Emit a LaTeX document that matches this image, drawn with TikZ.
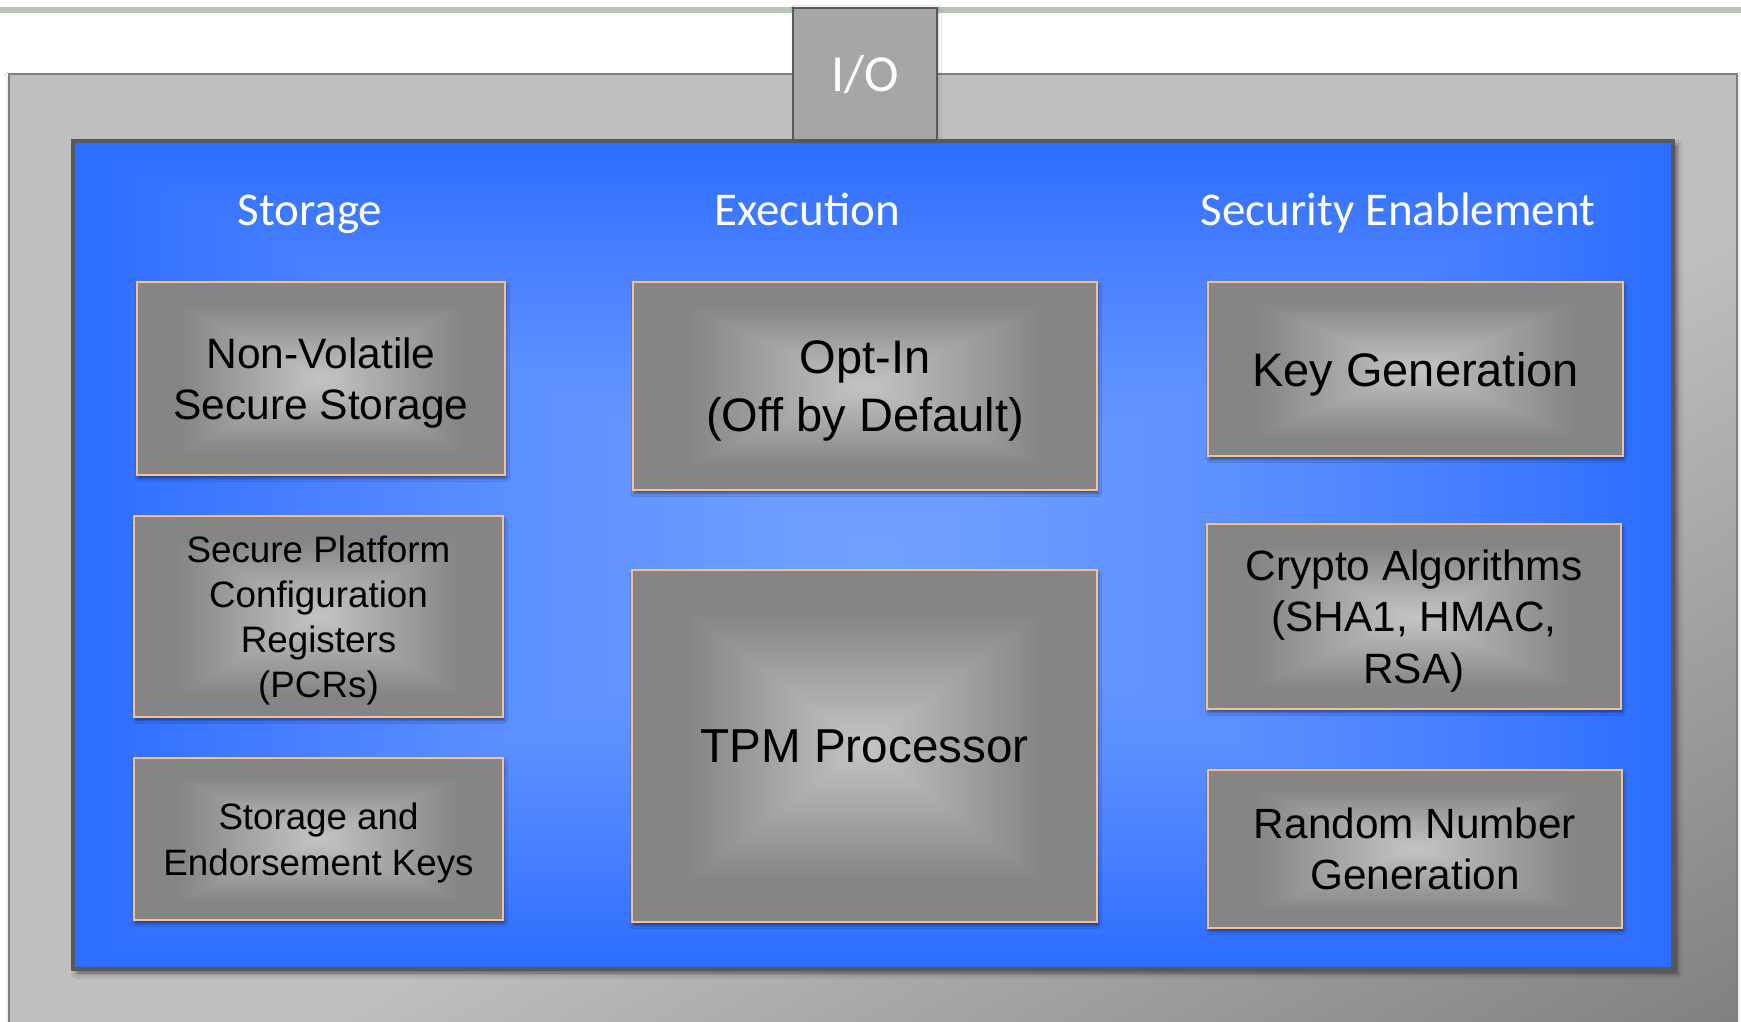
\documentclass[tikz,border=0pt]{standalone}
\usepackage{fontspec}
\setmainfont{Liberation Sans}
\newfontfamily\headfont{Carlito}
\usetikzlibrary{shadows.blur}

\definecolor{sage}{HTML}{B4C9B2}
\definecolor{frameline}{HTML}{7F7F7F}
\definecolor{iofill}{HTML}{A6A6A6}
\definecolor{darkedge}{HTML}{595959}
\definecolor{peach}{HTML}{FAC090}
\definecolor{bxd}{HTML}{858585}
\definecolor{bxl}{HTML}{C4C4C4}
\definecolor{bl0}{HTML}{2B6DFF}
\definecolor{bl1}{HTML}{4A80FF}
\definecolor{bl2}{HTML}{5C8FFF}
\definecolor{bl3}{HTML}{72A1FF}

% corner-to-corner ramp for the outer housing: light over the upper-left
% half, darkening towards the lower-right corner
\pgfdeclarefunctionalshading{outerdiag}{\pgfpointorigin}{\pgfpoint{100bp}{100bp}}{}{
  sub 50 add 100 div
  0.58 sub dup 0 lt {pop 0} if
  0.42 div 0.251 mul 0.749 exch sub
  dup dup
}

% rectangular "from centre" gradient, built from a symmetric vertical ramp
% plus left/right triangles with horizontal ramps
\pgfdeclareverticalshading{grayV}{100bp}{color(0bp)=(bxd); color(31bp)=(bxd); color(50bp)=(bxl); color(69bp)=(bxd); color(100bp)=(bxd)}
\pgfdeclarehorizontalshading{grayL}{100bp}{color(0bp)=(bxd); color(37bp)=(bxd); color(75bp)=(bxl); color(100bp)=(bxl)}
\pgfdeclarehorizontalshading{grayR}{100bp}{color(0bp)=(bxl); color(25bp)=(bxl); color(63bp)=(bxd); color(100bp)=(bxd)}

\pgfdeclareverticalshading{blueV}{100bp}{color(0bp)=(bl0); color(25bp)=(bl0); color(32.5bp)=(bl1); color(38.75bp)=(bl2); color(50bp)=(bl3); color(61.25bp)=(bl2); color(67.5bp)=(bl1); color(75bp)=(bl0); color(100bp)=(bl0)}
\pgfdeclarehorizontalshading{blueL}{100bp}{color(0bp)=(bl0); color(25bp)=(bl0); color(40bp)=(bl1); color(52.5bp)=(bl2); color(75bp)=(bl3); color(100bp)=(bl3)}
\pgfdeclarehorizontalshading{blueR}{100bp}{color(0bp)=(bl3); color(25bp)=(bl3); color(47.5bp)=(bl2); color(60bp)=(bl1); color(75bp)=(bl0); color(100bp)=(bl0)}

\tikzset{
  rectgrad/.style n args={3}{path picture={
    \shade[shading=#1] (path picture bounding box.south west) rectangle (path picture bounding box.north east);
    \shade[shading=#2] (path picture bounding box.south west) -- (path picture bounding box.center) -- (path picture bounding box.north west) -- cycle;
    \shade[shading=#3] (path picture bounding box.south east) -- (path picture bounding box.center) -- (path picture bounding box.north east) -- cycle;
  }},
  gbox/.style={draw=peach, line width=2.5pt, rectgrad={grayV}{grayL}{grayR},
    blur shadow={shadow xshift=1.5pt, shadow yshift=-3.5pt, shadow blur radius=3pt, shadow opacity=45},
    align=center, inner sep=0pt, text depth=-4pt, text=black},
  head/.style={font=\headfont\fontsize{47}{56}\selectfont, text=white, anchor=base, inner sep=0pt},
  iobox/.style={draw=darkedge, line width=2.5pt, fill=iofill,
    blur shadow={shadow xshift=1pt, shadow yshift=-1pt, shadow blur radius=3pt, shadow opacity=25}},
}

\begin{document}
\begin{tikzpicture}[x=1pt, y=-1pt]
  \useasboundingbox (0,0) rectangle (1741,1022);
  \fill[white] (0,0) rectangle (1741,1022);

  % rule across the top
  \draw[sage, line width=5.3pt] (0,10) -- (1741,10);

  % outer housing
  \shadedraw[draw=frameline, line width=2pt, shading=outerdiag,
    blur shadow={shadow xshift=0pt, shadow yshift=-2pt, shadow blur radius=4pt, shadow opacity=25}]
    (9,74) rectangle (1737,1040);

  % I/O tab
  \node[iobox, minimum width=144pt, minimum height=134.3pt, anchor=north] (io) at (865,6.7) {};
  \node[text=white, font=\headfont\fontsize{52}{60}\selectfont, inner sep=0pt, text depth=0pt]
    (iolabel) at ([yshift=2pt]io.center) {I/O};

  % blue core
  \path[draw=darkedge, line width=3.5pt, rectgrad={blueV}{blueL}{blueR},
    blur shadow={shadow xshift=4pt, shadow yshift=-4pt, shadow blur radius=5pt, shadow opacity=55}]
    (73,141) rectangle (1673,969);

  % column headings
  \node[head] (hstorage) at (310,225) {Storage};
  \node[head] (hexec) at (807,225) {Execution};
  \node[head] (hsec) at (1398,225) {Security Enablement};

  % storage column
  \node[gbox, minimum width=368pt, minimum height=193pt, font=\fontsize{42.5}{51}\selectfont]
    (nvs) at (321,378.5) {Non-Volatile\\Secure Storage};
  \node[gbox, minimum width=369pt, minimum height=201pt, font=\fontsize{36.8}{45}\selectfont]
    (pcr) at (318.5,616.5) {Secure Platform\\Configuration\\Registers\\(PCRs)};
  \node[gbox, minimum width=369pt, minimum height=162pt, font=\fontsize{36.7}{45.5}\selectfont]
    (sek) at (318.5,839) {Storage and\\Endorsement Keys};

  % execution column
  \node[gbox, minimum width=464pt, minimum height=208pt, font=\fontsize{47}{58}\selectfont]
    (optin) at (865,386) {Opt-In\\(Off by Default)};
  \node[gbox, minimum width=465pt, minimum height=352pt, font=\fontsize{47.6}{56}\selectfont]
    (tpm) at (864.5,746) {TPM Processor};

  % security enablement column
  \node[gbox, minimum width=415pt, minimum height=174pt, font=\fontsize{47}{56}\selectfont]
    (keygen) at (1415.5,369) {Key Generation};
  \node[gbox, minimum width=414pt, minimum height=185pt, font=\fontsize{42.4}{51.5}\selectfont]
    (crypto) at (1414,616.5) {Crypto Algorithms\\(SHA1, HMAC,\\RSA)};
  \node[gbox, minimum width=414pt, minimum height=158pt, font=\fontsize{42.3}{51}\selectfont]
    (rng) at (1415,849) {Random Number\\Generation};
\end{tikzpicture}
\end{document}
